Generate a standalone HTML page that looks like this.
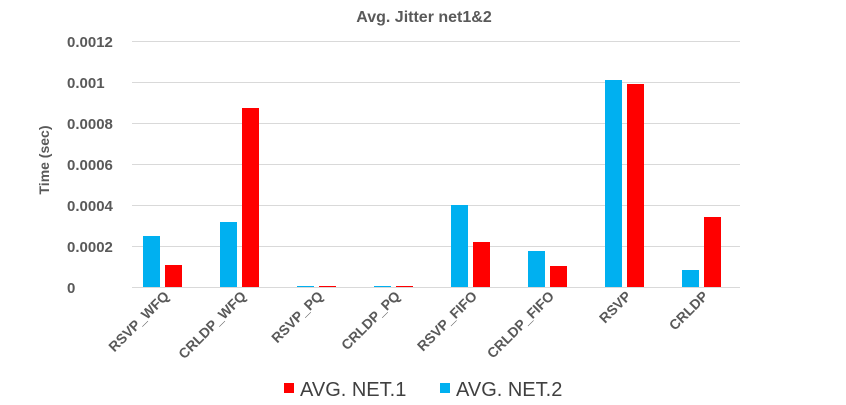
<!DOCTYPE html>
<html><head><style>body{margin:0;background:#fff}svg{display:block}</style></head><body>
<svg width="846" height="405" xmlns="http://www.w3.org/2000/svg" font-family="Liberation Sans, sans-serif" font-weight="bold" fill="#595959">
<text x="424" y="22" text-anchor="middle" font-size="16">Avg. Jitter net1&amp;2</text>
<g stroke="#d9d9d9" stroke-width="1">
<line x1="132" x2="740" y1="41.5" y2="41.5"/><line x1="132" x2="740" y1="82.5" y2="82.5"/>
<line x1="132" x2="740" y1="123.5" y2="123.5"/><line x1="132" x2="740" y1="164.5" y2="164.5"/>
<line x1="132" x2="740" y1="205.5" y2="205.5"/><line x1="132" x2="740" y1="246.5" y2="246.5"/>
<line x1="132" x2="740" y1="287.5" y2="287.5"/></g>
<g font-size="15" text-anchor="start">
<text x="67" y="47">0.0012</text><text x="67" y="88">0.001</text><text x="67" y="129">0.0008</text>
<text x="67" y="170">0.0006</text><text x="67" y="211">0.0004</text><text x="67" y="252">0.0002</text>
<text x="67" y="293">0</text></g>
<text transform="translate(49,160) rotate(-90)" text-anchor="middle" font-size="14">Time (sec)</text>
<g fill="#00b0f0">
<rect x="143" y="236" width="17" height="51"/><rect x="220" y="222" width="17" height="65"/>
<rect x="297" y="286" width="17" height="1"/><rect x="374" y="286" width="17" height="1"/>
<rect x="451" y="205" width="17" height="82"/><rect x="528" y="251" width="17" height="36"/>
<rect x="605" y="80" width="17" height="207"/><rect x="682" y="270" width="17" height="17"/></g>
<g fill="#ff0000">
<rect x="165" y="265" width="17" height="22"/><rect x="242" y="108" width="17" height="179"/>
<rect x="319" y="286" width="17" height="1"/><rect x="396" y="286" width="17" height="1"/>
<rect x="473" y="242" width="17" height="45"/><rect x="550" y="266" width="17" height="21"/>
<rect x="627" y="84" width="17" height="203"/><rect x="704" y="217" width="17" height="70"/></g>
<g font-size="14" text-anchor="end">
<text transform="translate(170,297) rotate(-45)">RSVP_WFQ</text>
<text transform="translate(247,297) rotate(-45)">CRLDP_WFQ</text>
<text transform="translate(324,297) rotate(-45)">RSVP_PQ</text>
<text transform="translate(401,297) rotate(-45)">CRLDP_PQ</text>
<text transform="translate(478,297) rotate(-45)">RSVP_FIFO</text>
<text transform="translate(555,297) rotate(-45)">CRLDP_FIFO</text>
<text transform="translate(632,297) rotate(-45)">RSVP</text>
<text transform="translate(709,297) rotate(-45)">CRLDP</text></g>
<rect x="284" y="383" width="10" height="10" fill="#ff0000"/>
<text x="300" y="396" font-size="20" font-weight="normal" fill="#404040">AVG. NET.1</text>
<rect x="440" y="383" width="10" height="10" fill="#00b0f0"/>
<text x="456" y="396" font-size="20" font-weight="normal" fill="#404040">AVG. NET.2</text>
</svg>
</body></html>
